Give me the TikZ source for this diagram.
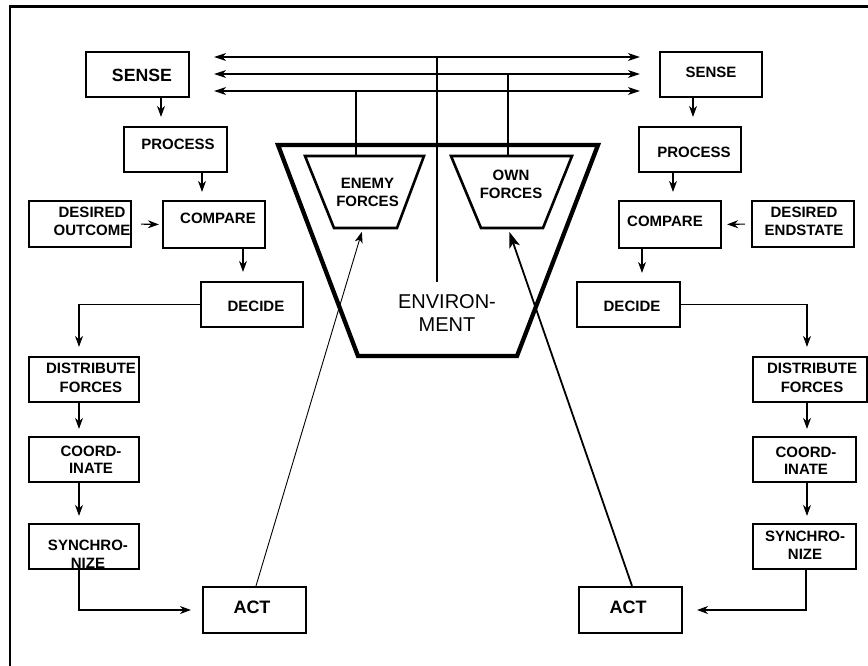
\documentclass[tikz,border=0pt]{standalone}
\usepackage{fontspec}
\setmainfont{Liberation Sans}
\usetikzlibrary{arrows.meta}
\begin{document}
\begin{tikzpicture}[x=1pt,y=-1pt,
  box/.style={draw, line width=2.2pt, inner sep=0pt},
  lbl/.style={font=\bfseries\fontsize{15}{17.5}\selectfont, align=center, inner sep=0pt},
  conn/.style={line width=1.1pt},
  arr/.style={conn, -{Stealth[length=11pt,width=8pt,inset=3.5pt]}},
  darr/.style={conn, {Stealth[length=12pt,width=8pt,inset=3.5pt]}-{Stealth[length=12pt,width=8pt,inset=3.5pt]}},
  inner trap/.style={line width=2.6pt, line join=miter},
]
\useasboundingbox (0,0) rectangle (868,666);
% frame
\draw[line width=2.6pt, line join=miter] (868,6.5) -- (10,6.5) -- (10,666);

% environment
\draw[line width=4.3pt, line join=miter] (278,145) -- (598,145) -- (517,356) -- (358,356) -- cycle;
\node[font=\fontsize{20}{23.3}\selectfont, align=center, inner sep=0pt] (envt) at (447,313.3) {ENVIRON-\\MENT};

% enemy / own forces
\draw[inner trap] (305,156) -- (424,156) -- (397,228) -- (334,228) -- cycle;
\node[lbl, font=\bfseries\fontsize{15}{18}\selectfont] (enemyt) at (367.5,192) {ENEMY\\FORCES};
\draw[inner trap] (451,156) -- (572,156) -- (543,228) -- (481,228) -- cycle;
\node[lbl, font=\bfseries\fontsize{15}{18}\selectfont] (ownt) at (511,184) {OWN\\FORCES};
\coordinate (enemyT) at (356,156);
\coordinate (enemyB) at (363,228);
\coordinate (ownT) at (508,156);
\coordinate (ownB) at (508,228);

% left column boxes
\node[box, minimum width=103pt, minimum height=45pt] (senseL) at (137.5,74.5) {};
\node[lbl, font=\bfseries\fontsize{17.7}{20}\selectfont] (senseLt) at (142,75) {SENSE};
\node[box, minimum width=103pt, minimum height=45pt] (processL) at (175.5,149.5) {};
\node[lbl] (processLt) at (178,144) {PROCESS};
\node[box, minimum width=102pt, minimum height=47pt] (compareL) at (214,224.5) {};
\node[lbl] (compareLt) at (218,218) {COMPARE};
\node[box, minimum width=102pt, minimum height=46pt] (desiredL) at (80,224) {};
\node[lbl] (desiredLt) at (92,221.5) {DESIRED\\OUTCOME};
\node[box, minimum width=102pt, minimum height=45pt] (decideL) at (252,304.5) {};
\node[lbl] (decideLt) at (256,306) {DECIDE};
\node[box, minimum width=110pt, minimum height=45pt] (distL) at (84,379.5) {};
\node[lbl, font=\bfseries\fontsize{15}{19}\selectfont] (distLt) at (91,377.5) {DISTRIBUTE\\FORCES};
\node[box, minimum width=110pt, minimum height=45pt] (coordL) at (84,459.5) {};
\node[lbl] (coordLt) at (91,460) {COORD-\\INATE};
\node[box, minimum width=110pt, minimum height=45pt] (syncL) at (84,546.5) {};
\node[lbl] (syncLt) at (88,554.5) {SYNCHRO-\\NIZE};
\node[box, minimum width=103pt, minimum height=46pt] (actL) at (254.5,610) {};
\node[lbl, font=\bfseries\fontsize{18}{20}\selectfont] (actLt) at (252,607) {ACT};

% right column boxes
\node[box, minimum width=102pt, minimum height=45pt] (senseR) at (711,74.5) {};
\node[lbl] (senseRt) at (711,72) {SENSE};
\node[box, minimum width=102pt, minimum height=45pt] (processR) at (690,149.5) {};
\node[lbl] (processRt) at (694,152) {PROCESS};
\node[box, minimum width=102pt, minimum height=47pt] (compareR) at (670,224.5) {};
\node[lbl] (compareRt) at (665,221) {COMPARE};
\node[box, minimum width=102pt, minimum height=46pt] (desiredR) at (803,224) {};
\node[lbl] (desiredRt) at (804,221.5) {DESIRED\\ENDSTATE};
\node[box, minimum width=103pt, minimum height=45pt] (decideR) at (628.5,304.5) {};
\node[lbl] (decideRt) at (632,306) {DECIDE};
\node[box, minimum width=114pt, minimum height=45pt] (distR) at (810,379.5) {};
\node[lbl, font=\bfseries\fontsize{15}{19}\selectfont] (distRt) at (812,377.5) {DISTRIBUTE\\FORCES};
\node[box, minimum width=103pt, minimum height=45pt] (coordR) at (804.5,459.5) {};
\node[lbl] (coordRt) at (806,461) {COORD-\\INATE};
\node[box, minimum width=103pt, minimum height=45pt] (syncR) at (804.5,546.5) {};
\node[lbl] (syncRt) at (805,545.5) {SYNCHRO-\\NIZE};
\node[box, minimum width=103pt, minimum height=46pt] (actR) at (630.5,610) {};
\node[lbl, font=\bfseries\fontsize{18}{20}\selectfont] (actRt) at (628,607) {ACT};

% horizontal double arrows
\draw[darr, shorten <=24pt, shorten >=19pt] ([yshift=17.5pt]senseL.east) -- ([yshift=17.5pt]senseR.west);
\draw[darr, shorten <=24pt, shorten >=19pt] ([yshift=0.5pt]senseL.east) -- ([yshift=0.5pt]senseR.west);
\draw[darr, shorten <=24pt, shorten >=19pt] ([yshift=-16.5pt]senseL.east) -- ([yshift=-16.5pt]senseR.west);

% vertical links to environment
\coordinate (top1) at (437,57);
\coordinate (envc) at (437,282);
\draw[conn] (top1) -- (envc);
\coordinate (j1) at (356,91);
\draw[conn] (j1) -- (enemyT);
\coordinate (j2) at (508,74);
\draw[conn] (j2) -- (ownT);

% left chain
\coordinate (l1) at ([xshift=23.5pt]senseL.south);
\draw[arr, shorten >=9pt] (l1) -- (l1 |- processL.north);
\coordinate (l2) at ([xshift=26.5pt]processL.south);
\draw[arr, shorten >=8pt] (l2) -- (l2 |- compareL.north);
\draw[arr, shorten <=9pt, shorten >=3pt] (desiredL.east) -- (compareL.west);
\coordinate (l3) at ([xshift=29pt]compareL.south);
\draw[arr, shorten >=9pt] (l3) -- (l3 |- decideL.north);
\draw[arr, shorten >=9pt] (decideL.west) -| ([xshift=-5pt]distL.north);
\draw[arr, shorten >=7pt] ([xshift=-5pt]distL.south) -- ([xshift=-5pt]coordL.north);
\draw[arr, shorten >=7pt] ([xshift=-5pt]coordL.south) -- ([xshift=-5pt]syncL.north);
\draw[arr, shorten >=11pt] ([xshift=-5pt]syncL.south) |- (actL.west);
\draw[line width=0.9pt, -{Stealth[length=11pt,width=8pt,inset=3pt]}, shorten >=4pt] ([xshift=1.5pt]actL.north) -- (enemyB);

% right chain
\coordinate (r1) at ([xshift=-18pt]senseR.south);
\draw[arr, shorten >=9pt] (r1) -- (r1 |- processR.north);
\coordinate (r2) at ([xshift=-17pt]processR.south);
\draw[arr, shorten >=8pt] (r2) -- (r2 |- compareR.north);
\draw[arr, shorten <=6pt, shorten >=5pt] (desiredR.west) -- (compareR.east);
\coordinate (r3) at ([xshift=-28pt]compareR.south);
\draw[arr, shorten >=8pt] (r3) -- (r3 |- decideR.north);
\draw[arr, shorten >=9pt] (decideR.east) -| ([xshift=-3pt]distR.north);
\draw[arr, shorten >=7pt] ([xshift=-3pt]distR.south) -- ([xshift=2.5pt]coordR.north);
\draw[arr, shorten >=7pt] ([xshift=2.5pt]coordR.south) -- ([xshift=2.5pt]syncR.north);
\draw[arr, shorten >=14pt] ([xshift=1.5pt]syncR.south) |- (actR.east);
\draw[line width=1.8pt, -{Stealth[length=16pt,width=11pt,inset=4pt]}, shorten >=4pt] ([xshift=1.5pt]actR.north) -- (ownB);
\end{tikzpicture}
\end{document}
